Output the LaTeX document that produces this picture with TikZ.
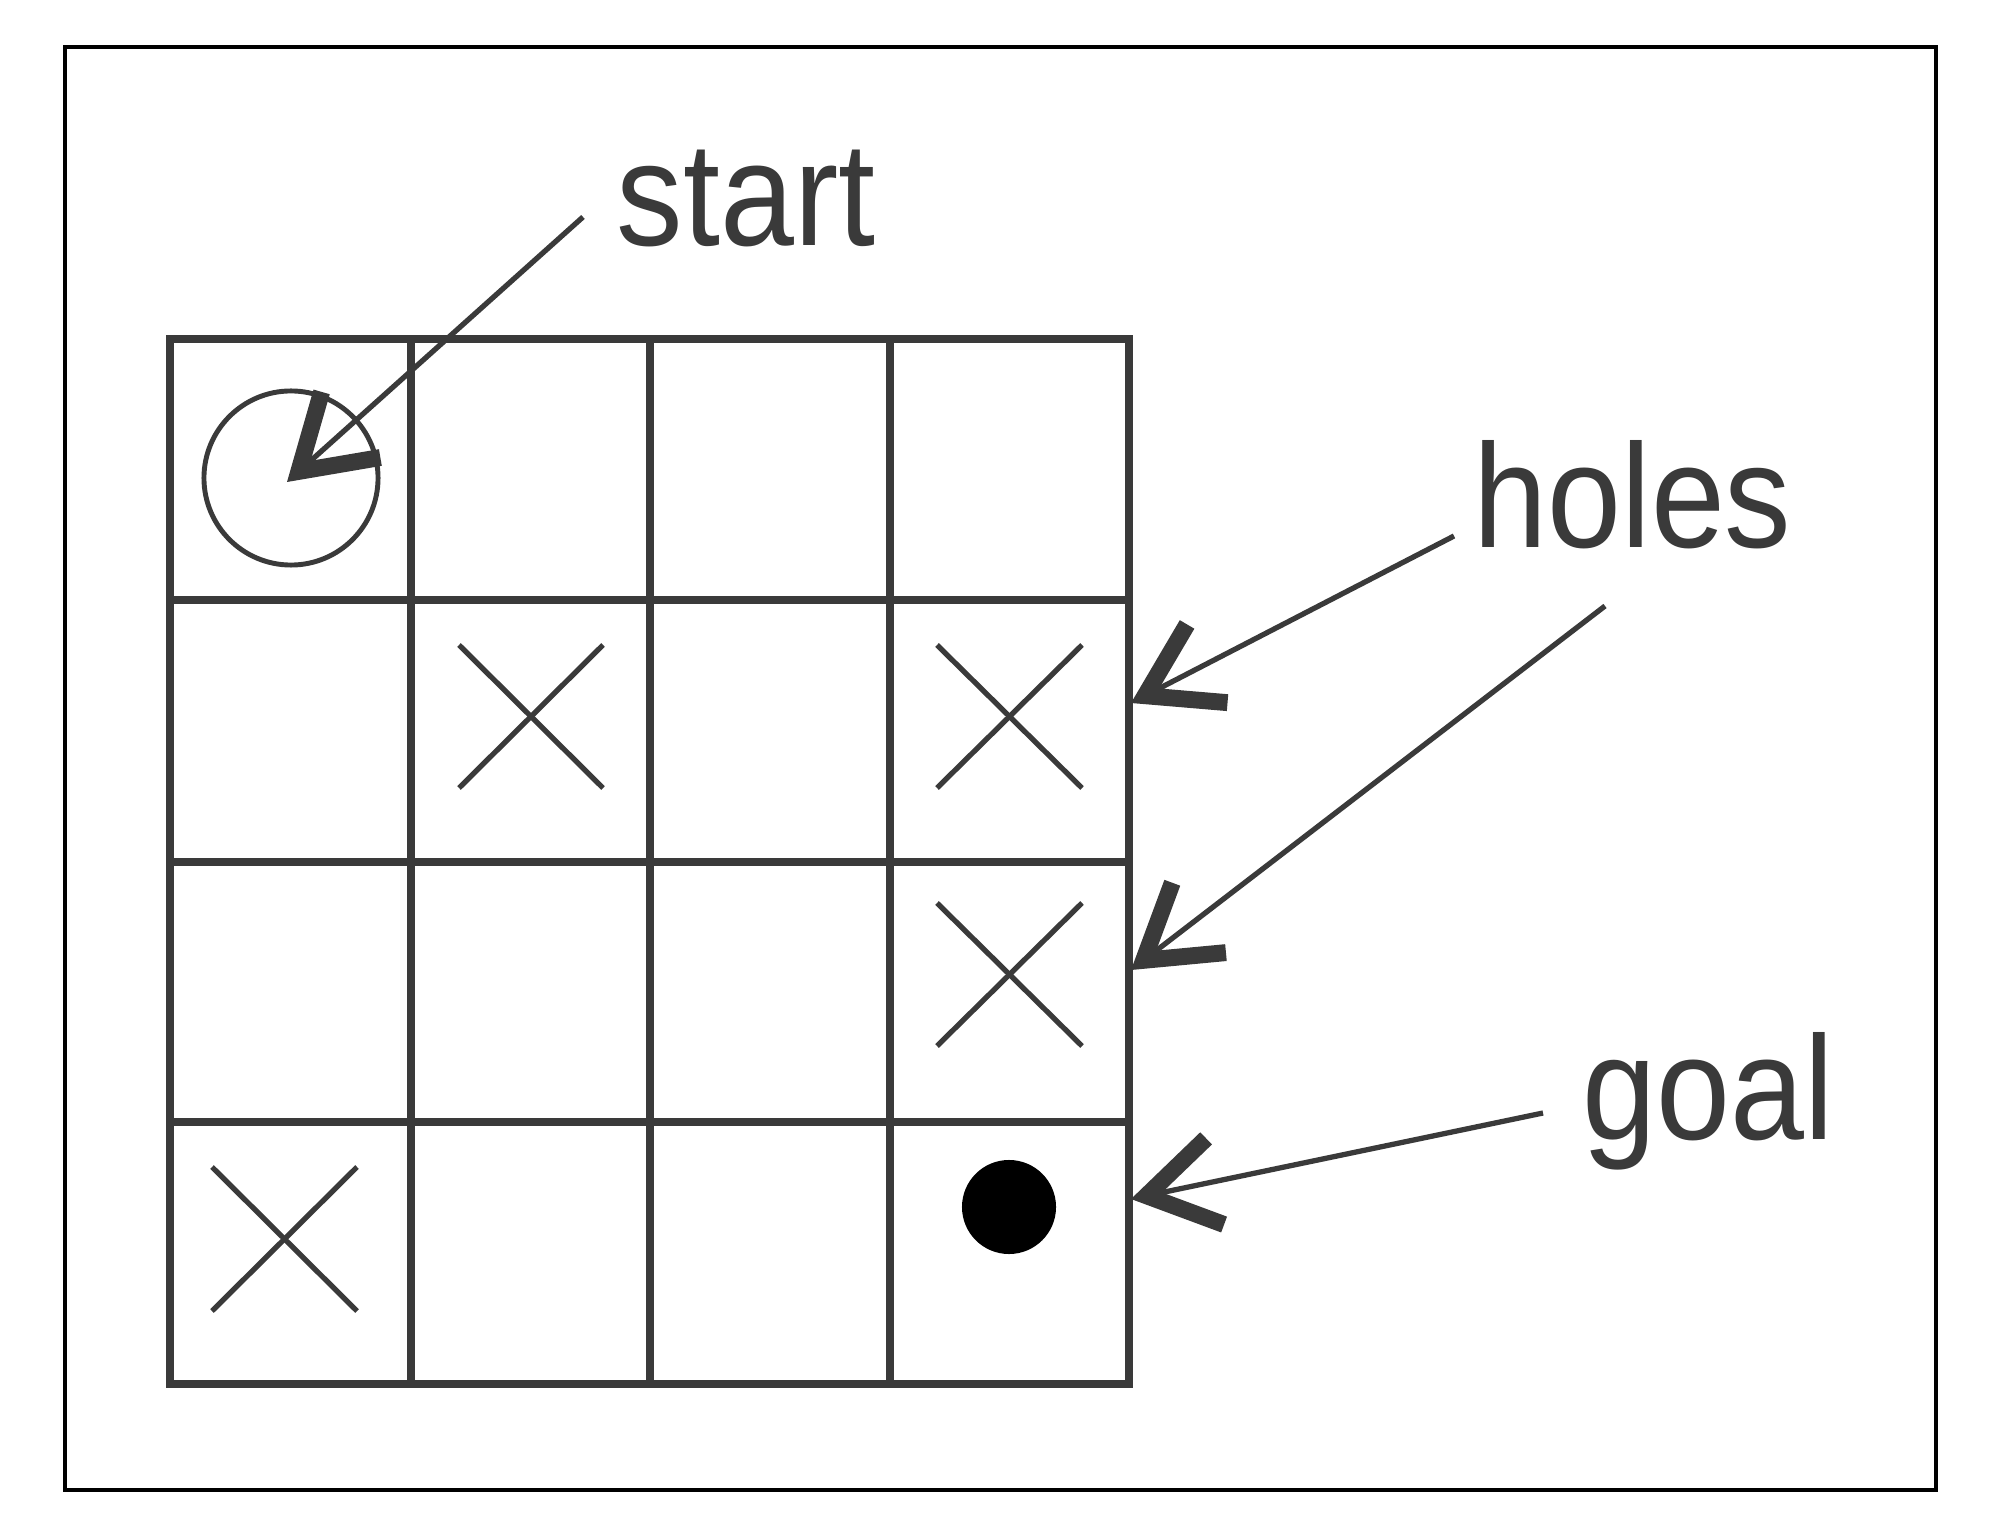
\documentclass[tikz,border=0pt]{standalone}
\usepackage{fontspec}
\setmainfont{Liberation Sans}
\newfontfamily\lblfont[FakeStretch=0.9]{Liberation Sans}
\usetikzlibrary{arrows.meta}
\definecolor{ink}{HTML}{3A3A3A}
\begin{document}
\begin{tikzpicture}[x=0.01cm,y=-0.01cm,
  gridline/.style={draw=ink,line width=2.4pt},
  xmark/.style={draw=ink,line width=1.5pt},
  lbl/.style={inner sep=0pt,anchor=base west,text=ink,font=\lblfont\fontsize{42}{48}\selectfont},
  pointer/.style={draw=ink,line width=1.5pt,-{Straight Barb[length=0.7cm,width=0.88cm,line width=4.8pt]}}]
\useasboundingbox (0,0) rectangle (2000,1525);
\fill[white] (0,0) rectangle (2000,1525);
% frame
\draw[black,line width=0.9pt] (65,47) rectangle (1936,1490);
% grid
\foreach \gx in {170,411,650,890,1129} \draw[gridline] (\gx,339) -- (\gx,1384);
\foreach \gy in {339,600,862,1122,1384} \draw[gridline] (166,\gy) -- (1133,\gy);
% crosses
\foreach \ax/\ay/\bx/\by in {459/645/603/788, 937/645/1082/788, 937/903/1082/1046, 212/1167/357/1311}{
  \draw[xmark] (\ax,\ay) -- (\bx,\by);
  \draw[xmark] (\ax,\by) -- (\bx,\ay);
}
% start circle and goal dot
\node[circle,draw=ink,line width=1.4pt,minimum size=1.74cm,inner sep=0pt] (startcirc) at (291,478) {};
\node[circle,fill=black,minimum size=0.94cm,inner sep=0pt] (goaldot) at (1009,1207) {};
% labels
\node[lbl] (start) at (616,246) {start};
\node[lbl] (holes) at (1473,548) {holes};
\node[lbl] (goal) at (1582,1139) {goal};
% arrow ends
\coordinate (startfrom) at (583,217);
\coordinate (starttip) at (287,482);
\coordinate (holesfromA) at (1454,536);
\coordinate (holesfromB) at (1605,606);
\coordinate (goalfrom) at (1543,1113);
\coordinate (holetipA) at (1131,703);
\coordinate (holetipB) at (1131,970);
\coordinate (goaltip) at (1131,1199);
% arrows
\draw[pointer] (startfrom) -- (starttip);
\draw[pointer] (holesfromA) -- (holetipA);
\draw[pointer] (holesfromB) -- (holetipB);
\draw[pointer] (goalfrom) -- (goaltip);
\end{tikzpicture}
\end{document}
